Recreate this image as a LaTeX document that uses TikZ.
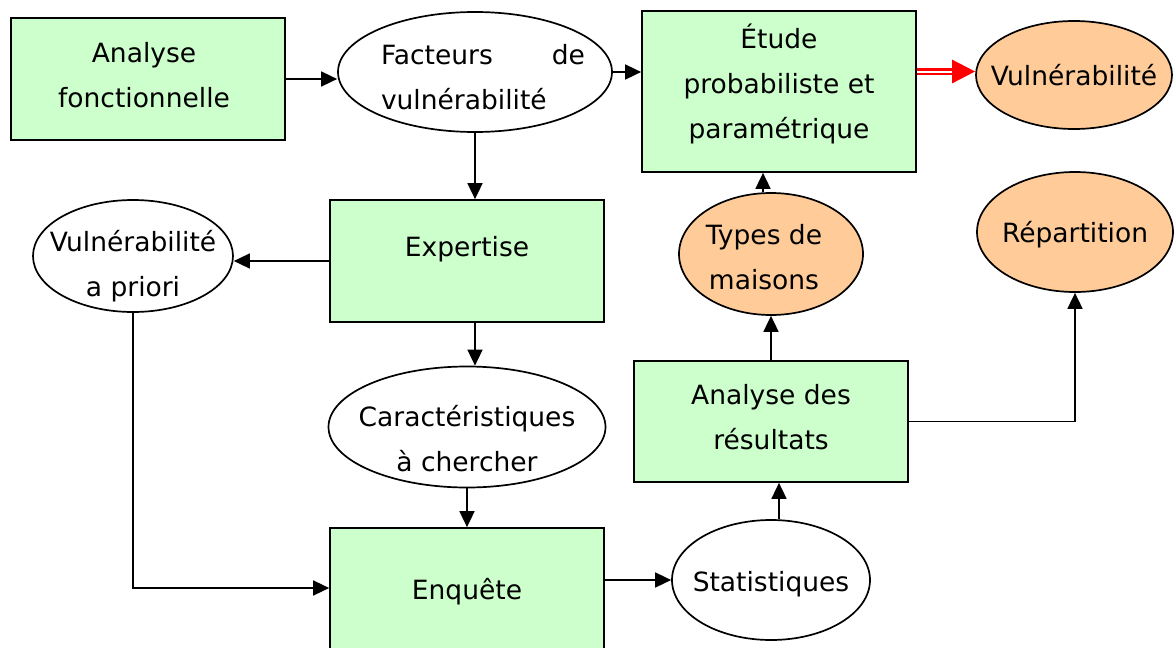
\documentclass[tikz,border=0pt]{standalone}
\usepackage{fontspec}
\setmainfont{DejaVu Sans}
\usetikzlibrary{arrows.meta,shapes.geometric}
\definecolor{boxgreen}{HTML}{CCFFCC}
\definecolor{ovalorange}{HTML}{FFCC99}
\begin{document}
\begin{tikzpicture}[x=1pt,y=-1pt,
  font=\fontsize{26.5}{45}\selectfont,
  box/.style={draw, line width=1.7pt, fill=boxgreen, rectangle, inner sep=0pt},
  oval/.style={draw, line width=1.7pt, ellipse, inner sep=0pt},
  warm/.style={oval, fill=ovalorange},
  every label/.style={align=center, inner sep=0pt},
  arr/.style={line width=1.6pt, -{Triangle[length=16pt,width=15pt]}},
  keyarr/.style={red, line width=2.6pt, double=white, double distance=2pt,
    -{Triangle[length=23pt,width=23pt]}},
]
\clip (0,0) rectangle (1176,648);

% top row
\node[box, minimum width=274pt, minimum height=122pt,
  label={[xshift=-4pt,yshift=4pt]center:Analyse\\fonctionnelle}] (af) at (148,79) {};
\node[oval, minimum width=274pt, minimum height=120pt,
  label={[xshift=8pt,yshift=-5pt,align=left]center:\makebox[204pt]{Facteurs\hfill de}\\vulnérabilité}] (fv) at (475,72) {};
\node[box, minimum width=274pt, minimum height=161pt,
  label={[yshift=8pt]center:Étude\\probabiliste et\\paramétrique}] (etude) at (779,91.5) {};
\node[warm, minimum width=196pt, minimum height=108pt,
  label={center:Vulnérabilité}] (vul) at (1074,75) {};

% middle
\node[box, minimum width=274pt, minimum height=122pt,
  label={[yshift=12pt]center:Expertise}] (exp) at (467,261) {};
\node[oval, minimum width=200pt, minimum height=112pt,
  label={[yshift=-10pt]center:Vulnérabilité\\a priori}] (apr) at (133,256) {};
\node[oval, minimum width=277pt, minimum height=121pt,
  label={[yshift=-12pt]center:Caractéristiques\\à chercher}] (car) at (467,427) {};
\node[warm, minimum width=184pt, minimum height=122pt,
  label={[xshift=-7pt,yshift=-3pt]center:Types de\\maisons}] (types) at (771,254) {};
\node[warm, minimum width=196pt, minimum height=120pt,
  label={[yshift=-3pt]center:Répartition}] (rep) at (1075,232) {};
\node[box, minimum width=274pt, minimum height=121pt,
  label={[yshift=4pt]center:Analyse des\\résultats}] (ar) at (771,421.5) {};

% bottom
\node[box, minimum width=274pt, minimum height=132pt,
  label={[yshift=2pt]center:Enquête}] (enq) at (467,594) {};
\node[oval, minimum width=198pt, minimum height=120pt,
  label={[yshift=-4pt]center:Statistiques}] (stat) at (771,580) {};

% connectors
\draw[arr] (af.east) -- (af.east -| fv.west);
\draw[arr] (fv.east) -- (fv.east -| etude.west);
\draw[keyarr] ([yshift=20pt]etude.east) -- ([yshift=20pt]etude.east -| vul.west);
\draw[arr] (fv.south) -- (fv.south |- exp.north);
\draw[arr] (exp.west) -- (exp.west -| apr.east);
\draw[arr] (fv.south |- exp.south) -- (fv.south |- car.north);
\draw[arr] (car.south) -- (enq.north);
\draw[arr] (apr.south) |- ([yshift=6pt]enq.west);
\draw[arr] (enq.east |- stat.west) -- (stat.west);
\draw[arr] ([xshift=8pt]stat.north) -- ([xshift=8pt]stat.north |- ar.south);
\draw[arr] (ar.north) -- (types.south);
\draw[arr] ([xshift=-8pt]types.north) -- ([xshift=-8pt]types.north |- etude.south);
\draw[arr] (ar.east) -| (rep.south);
\end{tikzpicture}
\end{document}
